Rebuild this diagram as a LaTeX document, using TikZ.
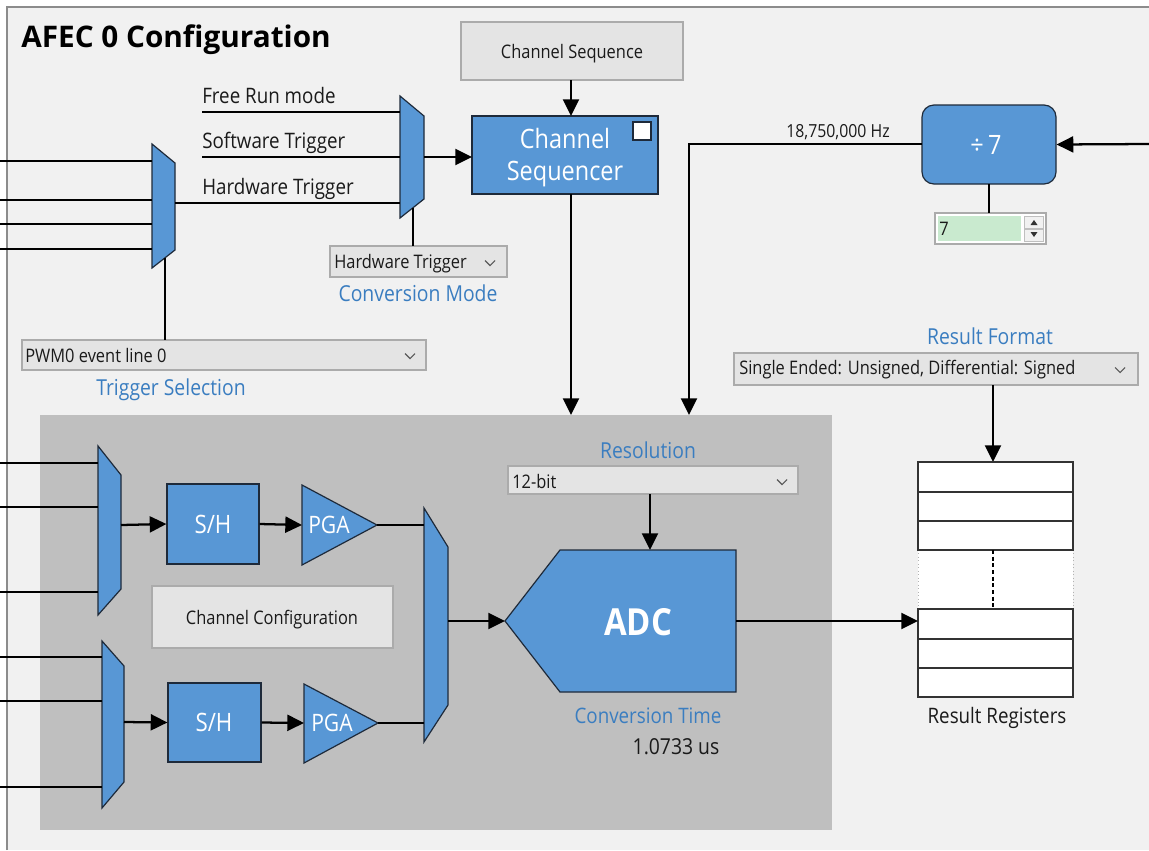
\documentclass[tikz,border=0pt]{standalone}
\usepackage{fontspec}
\setmainfont{Open Sans}[FakeStretch=0.88]
\newfontfamily\titlefont{Open Sans}
\usetikzlibrary{arrows.meta,fit}
\definecolor{bgc}{HTML}{F1F1F1}
\definecolor{panelc}{HTML}{BFBFBF}
\definecolor{blkc}{HTML}{5897D5}
\definecolor{edgec}{HTML}{1E2A3A}
\definecolor{lblc}{HTML}{3A7DC0}
\definecolor{ddfill}{HTML}{E4E4E4}
\definecolor{ddline}{HTML}{ABABAB}
\definecolor{txtc}{HTML}{1A1A1A}
\definecolor{framec}{HTML}{8C8C8C}
\definecolor{greenc}{HTML}{C9EACF}
\tikzset{
  wire/.style={line width=1.7pt, draw=black},
  arr/.style={wire, -{Triangle[length=12.5pt,width=12pt]}},
  blkshape/.style={fill=blkc, draw=edgec, line width=0.9pt},
  ddbox/.style={fill=ddfill, draw=ddline, line width=0.8pt, inner sep=0pt},
  lbltext/.style={text=lblc, font=\fontsize{16.5pt}{19pt}\selectfont, inner sep=0pt},
  plaintext/.style={text=txtc, font=\fontsize{16pt}{19pt}\selectfont, inner sep=0pt},
  smalltext/.style={text=txtc, font=\fontsize{14pt}{17pt}\selectfont, inner sep=0pt},
  whitetext/.style={text=white, font=\fontsize{19pt}{24pt}\selectfont, inner sep=0pt},
  chevstyle/.style={draw=black!65, line width=0.8pt},
  regbox/.style={fill=white, draw=black!80, line width=0.9pt}
}
\newcommand\chev[2]{\draw[chevstyle] (#1,#2) ++(-5,-2.5) -- ++(5,5) -- ++(5,-5);}
\begin{document}
\begin{tikzpicture}[x=0.75pt,y=-0.75pt]
\useasboundingbox (0,0) rectangle (1149,850);
\fill[white] (0,0) rectangle (1149,850);
\fill[bgc] (7,7) rectangle (1149,850);
\draw[framec, line width=1.2pt] (7,850) -- (7,7) -- (1149,7);
\fill[panelc] (40,415) rectangle (832,830);

% title
\node[anchor=west, inner sep=0pt, text=black] (title) at (21,40)
  {\titlefont\bfseries\fontsize{22.3pt}{26pt}\selectfont AFEC 0 Configuration};

% channel sequence button and sequencer
\node[ddbox, fit={(461,22) (683,80)}] (cseq) {};
\node[smalltext] (cseqt) at (572,54) {Channel Sequence};
\node[blkshape, fit={(472,116) (658,194)}, inner sep=0pt] (seq) {};
\node[whitetext, font=\fontsize{20pt}{24pt}\selectfont, align=center] (seqt) at (565,158) {Channel\\Sequencer};
\node[fill=white, draw=edgec, line width=0.8pt, minimum size=13.5pt, inner sep=0pt] (seqsq) at (642,131) {};
\coordinate (cseqb) at (571,80);
\coordinate (seqtop) at (571,116);
\draw[arr] (cseqb) -- (seqtop);

% conversion mode mux
\draw[blkshape] (400,96) -- (424,116) -- (424,199) -- (400,218) -- cycle;
\coordinate (m2a) at (400,112);
\coordinate (m2b) at (400,157);
\coordinate (m2c) at (400,203);
\coordinate (m2out) at (424,157);
\coordinate (m2ctl) at (413,208);
\coordinate (seqin) at (472,157);
\coordinate (frs) at (202,112);
\coordinate (sws) at (202,157);
\draw[wire] (frs) -- (m2a);
\draw[wire] (sws) -- (m2b);
\draw[arr] (m2out) -- (seqin);
\node[plaintext, anchor=base west] (frt) at (202,103) {Free Run mode};
\node[plaintext, anchor=base west] (swt) at (202,148) {Software Trigger};
\node[plaintext, anchor=base west] (hwt) at (202,194) {Hardware Trigger};

% trigger mux
\draw[blkshape] (152,144) -- (175,163) -- (175,250) -- (152,268) -- cycle;
\foreach \yy [count=\i] in {161,200,224,249} {
  \coordinate (tin\i) at (0,\yy);
  \coordinate (tm\i) at (152,\yy);
  \draw[wire] (tin\i) -- (tm\i);
}
\coordinate (m1out) at (175,203);
\draw[wire] (m1out) -- (m2c);
\coordinate (m1ctl) at (165,258);

% conversion mode dropdown
\node[ddbox, fit={(330,246) (507,277)}] (ddcm) {};
\node[smalltext, anchor=west] (ddcmt) at (334,264) {Hardware Trigger};
\chev{490}{263}
\coordinate (ddcmtop) at (413,246);
\draw[wire] (m2ctl) -- (ddcmtop);
\node[lbltext] (cml) at (418,293) {Conversion Mode};

% trigger selection dropdown
\node[ddbox, fit={(22,340) (426,370)}] (ddts) {};
\node[smalltext, anchor=west] (ddtst) at (25,355) {PWM0 event line 0};
\chev{410}{356}
\coordinate (ddtstop) at (165,340);
\draw[wire] (m1ctl) -- (ddtstop);
\node[lbltext] (tsl) at (171,390) {Trigger Selection};

% sequencer to panel
\coordinate (seqout) at (571,194);
\coordinate (pin1) at (571,415);
\draw[arr] (seqout) -- (pin1);

% divider
\node[blkshape, fit={(922,105) (1056,184)}, inner sep=0pt, rounded corners=9pt] (div) {};
\node[whitetext, font=\fontsize{20pt}{24pt}\selectfont] (divt) at (986,145) {÷\,7};
\coordinate (clkin) at (1149,144);
\draw[arr] (clkin) -- (div.east);
\coordinate (divw) at (922,144);
\coordinate (fcorner) at (689,144);
\coordinate (pin2) at (689,415);
\draw[arr] (divw) -- (fcorner) -- (pin2);
\node[smalltext, font=\fontsize{13.5pt}{16pt}\selectfont] (freq) at (838,132) {18,750,000 Hz};

% spin box
\node[fill=white, draw=ddline, line width=0.8pt, fit={(935,213) (1046,244)}, inner sep=0pt] (spin) {};
\fill[greenc] (938,216) rectangle (1021,241);
\draw[fill=bgc, draw=black!25, line width=0.5pt] (1024,216) rectangle (1043,228);
\draw[fill=bgc, draw=black!25, line width=0.5pt] (1024,229) rectangle (1043,241);
\fill[black!80] (1030.5,225) -- (1037.5,225) -- (1034,220) -- cycle;
\fill[black!80] (1030.5,232) -- (1037.5,232) -- (1034,237) -- cycle;
\node[smalltext, anchor=west] (spint) at (939,229) {7};
\coordinate (divb) at (989,184);
\coordinate (spintop) at (989,213);
\draw[wire] (divb) -- (spintop);

% result format
\node[lbltext] (rfl) at (990,336) {Result Format};
\node[ddbox, fit={(734,353) (1138,385)}] (ddrf) {};
\node[smalltext, anchor=west] (ddrft) at (739,370) {Single Ended: Unsigned, Differential: Signed};
\chev{1120}{370}
\coordinate (ddrfb) at (993,385);
\coordinate (regtop) at (993,462);
\draw[arr] (ddrfb) -- (regtop);

% result registers
\fill[white] (918,550) rectangle (1073,609);
\draw[black!30, dotted, line width=0.6pt] (918,550) -- (918,609) (1073,550) -- (1073,609);
\foreach \ya/\yb [count=\i] in {462/492,492/521,521/550,609/639,639/668,668/697} {
  \node[regbox, fit={(918,\ya) (1073,\yb)}, inner sep=0pt] (reg\i) {};
}
\coordinate (dota) at (993,550);
\coordinate (dotb) at (993,609);
\draw[black, line width=1.2pt, dash pattern=on 3pt off 2pt] (dota) -- (dotb);
\node[plaintext] (rrl) at (997,718) {Result Registers};

% resolution
\node[lbltext] (resl) at (648,450) {Resolution};
\node[ddbox, fit={(508,466) (798,494)}] (ddres) {};
\node[smalltext, anchor=west] (ddrest) at (512,481) {12-bit};
\chev{782}{482}
\coordinate (ddresb) at (650,494);
\coordinate (adctop) at (650,550);
\draw[arr] (ddresb) -- (adctop);

% ADC
\draw[blkshape] (560,550) -- (736,550) -- (736,692) -- (560,692) -- (505,621) -- cycle;
\node[text=white, inner sep=0pt, font=\bfseries\fontsize{28pt}{32pt}\selectfont] (adct) at (638,622) {ADC};
\coordinate (adcin) at (505,621);
\coordinate (adcout) at (736,621);
\coordinate (regin) at (918,621);
\draw[arr] (adcout) -- (regin);
\node[lbltext, font=\fontsize{16pt}{19pt}\selectfont] (ctl) at (648,716) {Conversion Time};
\node[plaintext, font=\fontsize{16.5pt}{19pt}\selectfont] (ctv) at (676,747) {1.0733 us};

% big mux
\draw[blkshape] (424,508) -- (448,547) -- (448,705) -- (424,742) -- cycle;
\coordinate (m3a) at (424,525);
\coordinate (m3b) at (424,723);
\coordinate (m3out) at (448,621);
\draw[arr] (m3out) -- (adcin);

% channel mux A
\draw[blkshape] (98,446) -- (121,475) -- (121,589) -- (98,615) -- cycle;
\foreach \yy [count=\i] in {463,507,592} {
  \coordinate (ain\i) at (0,\yy);
  \coordinate (am\i) at (98,\yy);
  \draw[wire] (ain\i) -- (am\i);
}
\coordinate (maout) at (121,525);
\node[blkshape, fit={(167,484) (259,564)}, inner sep=0pt] (sh1) {};
\node[whitetext] (sh1t) at (213,524) {S/H};
\draw[arr] (maout) -- (sh1.west);
\draw[blkshape] (302,485) -- (377,525) -- (302,565) -- cycle;
\node[whitetext, font=\fontsize{18pt}{22pt}\selectfont] (pga1t) at (329,525) {PGA};
\coordinate (pga1in) at (302,525);
\coordinate (pga1out) at (377,525);
\draw[arr] (sh1.east) -- (pga1in);
\draw[wire] (pga1out) -- (m3a);

% channel mux B
\draw[blkshape] (102,641) -- (124,666) -- (124,782) -- (102,808) -- cycle;
\foreach \yy [count=\i] in {657,701,787} {
  \coordinate (bin\i) at (0,\yy);
  \coordinate (bm\i) at (102,\yy);
  \draw[wire] (bin\i) -- (bm\i);
}
\coordinate (mbout) at (124,722);
\node[blkshape, fit={(168,683) (261,762)}, inner sep=0pt] (sh2) {};
\node[whitetext] (sh2t) at (214,722) {S/H};
\draw[arr] (mbout) -- (sh2.west);
\draw[blkshape] (304,684) -- (378,723) -- (304,763) -- cycle;
\node[whitetext, font=\fontsize{18pt}{22pt}\selectfont] (pga2t) at (332,723) {PGA};
\coordinate (pga2in) at (304,723);
\coordinate (pga2out) at (378,723);
\draw[arr] (sh2.east) -- (pga2in);
\draw[wire] (pga2out) -- (m3b);

% channel configuration
\node[ddbox, fit={(152,586) (393,648)}] (ccfg) {};
\node[smalltext] (ccfgt) at (272,620) {Channel Configuration};
\end{tikzpicture}
\end{document}
